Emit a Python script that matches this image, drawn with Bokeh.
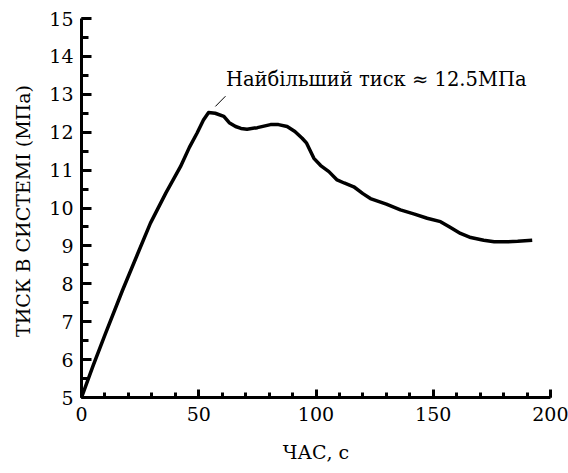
from bokeh.plotting import figure
from bokeh.models import Range1d, Label, FixedTicker
from bokeh.embed import file_html
from bokeh.resources import INLINE

time_s = [0, 5, 10, 17.5, 24, 29.4, 36, 42.2, 46, 49.3, 52, 54.2, 57, 60.7, 63, 65.7, 68, 70.6, 75, 80.6, 84, 87.7,
          91, 94.1, 96, 99.1, 102, 105.5, 109, 112, 116.1, 120, 123.2, 130, 136, 142, 147.4, 153.1, 157, 161.6,
          166, 171.5, 176, 181.5, 186, 192.2]
pressure = [5.0, 5.85, 6.65, 7.83, 8.8, 9.6, 10.4, 11.09, 11.6, 11.98, 12.32, 12.52, 12.5, 12.42, 12.25, 12.15,
            12.1, 12.08, 12.12, 12.2, 12.2, 12.15, 12.02, 11.84, 11.71, 11.31, 11.12, 10.96, 10.74, 10.66, 10.56,
            10.38, 10.25, 10.1, 9.95, 9.84, 9.73, 9.64, 9.5, 9.33, 9.22, 9.15, 9.11, 9.11, 9.12, 9.15]

x_ticks = [0, 50, 100, 150, 200]
y_ticks = [5, 6, 7, 8, 9, 10, 11, 12, 13, 14, 15]
annotation = "Найбільший тиск  ≈ 12.5МПа"
x_label = "ЧАС, с"
y_label = "ТИСК В СИСТЕМІ  (МПа)"

FONT = "DejaVu Serif"

p = figure(width=568, height=473, output_backend="svg", toolbar_location=None,
           x_range=Range1d(0, 200), y_range=Range1d(5, 15),
           min_border_left=81, min_border_right=18, min_border_top=18, min_border_bottom=76)
p.outline_line_color = None
p.grid.visible = False
p.background_fill_color = "white"
p.border_fill_color = "white"

p.line(time_s, pressure, line_width=3.5, line_color="black", line_join="round")

for ax in (p.xaxis[0], p.yaxis[0]):
    ax.axis_line_width = 3
    ax.axis_line_color = "black"
    ax.major_tick_line_width = 3
    ax.minor_tick_line_width = 3
    ax.major_tick_out = 0
    ax.minor_tick_out = 0
    ax.major_label_text_font = FONT
    ax.major_label_text_font_size = "19px"
    ax.major_label_text_color = "black"
    ax.axis_label_text_font = FONT
    ax.axis_label_text_font_style = "normal"
    ax.axis_label_text_font_size = "19px"
    ax.axis_label_text_color = "black"

p.xaxis.ticker = FixedTicker(ticks=x_ticks, minor_ticks=list(range(0, 201, 10)))
p.yaxis.ticker = FixedTicker(ticks=y_ticks, minor_ticks=[5 + 0.5 * i for i in range(21)])
p.xaxis.major_tick_in = 8
p.xaxis.minor_tick_in = 5
p.yaxis.major_tick_in = 10
p.yaxis.minor_tick_in = 7
p.xaxis.major_label_standoff = 9
p.yaxis.major_label_standoff = 8

p.yaxis.axis_label = y_label
p.yaxis.axis_label_standoff = 12
p.xaxis.axis_label = x_label
p.xaxis.axis_label_standoff = 17

p.add_layout(Label(x=61.6, y=13.1, text=annotation, text_font=FONT, text_font_size="19.5px",
                   text_align="left", text_baseline="bottom", text_color="black"))
p.segment(x0=[57.1], y0=[12.68], x1=[61.4], y1=[12.95], line_color="black", line_width=1)

open("out.html", "w").write(file_html(p, INLINE))
